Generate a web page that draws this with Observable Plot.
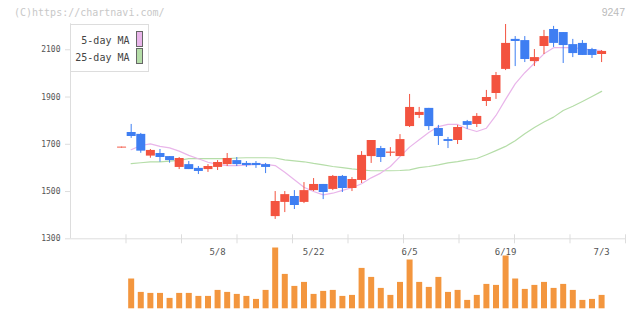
<!DOCTYPE html>
<html><head><meta charset="utf-8">
<script src="https://cdn.jsdelivr.net/npm/d3@7"></script>
<script src="https://cdn.jsdelivr.net/npm/@observablehq/plot@0.6"></script>
<style>
html,body{margin:0;padding:0;background:#fff;}
#wrap{position:relative;width:640px;height:311px;overflow:hidden;}
#wrap svg{position:absolute;left:0;top:0;}
.wm{position:absolute;left:14px;top:7px;font:10px/12px "DejaVu Sans Mono",monospace;color:#c8c8c8;white-space:nowrap;}
.code{position:absolute;right:15px;top:6px;font:10.5px/12px "Liberation Sans","DejaVu Sans",sans-serif;color:#bbb;}
.legend{position:absolute;left:70px;top:24px;width:79px;height:48px;box-sizing:border-box;border:1px solid #ddd;background:#fff;}
.legend .t{position:absolute;right:18.5px;font:10px/12px "DejaVu Sans Mono",monospace;color:#444;white-space:nowrap;}
.legend .sw{position:absolute;left:65px;width:7px;height:16px;box-sizing:border-box;border:1px solid #666;}
</style></head>
<body>
<div id="wrap"></div>
<script>
// trading days
const days = ["4/19","4/20","4/21","4/24","4/25","4/26","4/27","4/28","5/1","5/2","5/8","5/9","5/10","5/11","5/12","5/15","5/16","5/17","5/18","5/19","5/22","5/23","5/24","5/25","5/26","5/29","5/30","5/31","6/1","6/2","6/5","6/6","6/7","6/8","6/9","6/12","6/13","6/14","6/15","6/16","6/19","6/20","6/21","6/22","6/23","6/26","6/27","6/28","6/29","6/30","7/3"];
const tickLabels = ["5/8","5/22","6/5","6/19","7/3"];
const yTicks = [1300,1500,1700,1900,2100];

const open  = [1684, 1750,1742,1650,1661,1648,1602,1614,1598,1593,1602, 1614,1631,1619,1619,1614,1394,1454,1479,1454,1504, 1530,1509,1564,1513,1547,1648,1682,1662,1648,1775, 1822,1852,1767,1720,1716,1796,1784,1881,1915,2017, 2144,2139,2050,2114,2186,2173,2122,2127,2101,2080];
const high  = [1688, 1784,1746,1678,1678,1648,1644,1627,1606,1614,1631, 1661,1644,1627,1627,1619,1500,1500,1504,1538,1555, 1530,1568,1568,1559,1669,1716,1691,1686,1741,1911, 1856,1852,1780,1729,1780,1801,1830,1928,2004,2207, 2156,2156,2101,2182,2199,2173,2144,2139,2106,2097];
const low   = [1684, 1725,1662,1641,1624,1620,1593,1593,1572,1581,1589, 1606,1606,1602,1598,1576,1382,1411,1424,1449,1500, 1466,1504,1496,1500,1534,1619,1623,1648,1648,1771, 1809,1758,1695,1682,1699,1763,1771,1860,1890,2012, 2029,2046,2029,2080,2110,2042,2067,2076,2063,2046];
const close = [1688, 1733,1671,1674,1644,1631,1640,1593,1585,1606,1623, 1640,1614,1610,1610,1602,1458,1487,1441,1504,1530, 1496,1564,1513,1551,1653,1716,1644,1667,1720,1856, 1835,1775,1733,1712,1771,1780,1818,1898,1991,2127, 2135,2059,2067,2156,2127,2118,2084,2076,2076,2093];
const volume = [null, 149,82,77,77,52,77,77,62,62,92, 82,72,62,47,92,304,172,112,132,72, 87,92,62,67,202,157,102,67,132,244, 132,107,157,82,92,42,67,122,117,264, 149,97,117,132,102,122,92,42,47,67];
const ma5  = [null, 1677,1695,1702,1691,1685,1671,1653,1639,1624,1615, 1610,1610,1612,1615,1615,1610,1582,1550,1518,1500, 1486,1493,1505,1516,1533,1558,1578,1606,1648,1688, 1719,1750,1775,1784,1784,1766,1754,1768,1822,1890, 1956,2003,2043,2083,2109,2109,2109,2104,2100,2097];
const ma25 = [null, 1618,1622,1626,1626,1629,1632,1639,1639,1639,1639, 1639,1642,1643,1643,1643,1642,1634,1630,1626,1619, 1613,1606,1601,1596,1592,1588,1588,1588,1589,1592, 1601,1606,1613,1621,1627,1634,1640,1656,1673,1691, 1715,1745,1771,1794,1815,1843,1861,1881,1902,1924];

const UP = "#f3533f", DOWN = "#3e7ef2", VOL = "#f3963e";
const PINK = "#e9b5ea", GREEN = "#b5dda8", GRID = "#dddddd";

const rows = days.map((d, i) => ({i, date: d, open: open[i], high: high[i], low: low[i], close: close[i], vol: volume[i], ma5: ma5[i], ma25: ma25[i]}));
const xDomain = [-5.32, 52.49];
const yDomain = [1300, 2210];
const gridTicks = d3.range(1, 11).map(k => xDomain[0] + k * (xDomain[1] - xDomain[0]) / 10);
const labelIdx = tickLabels.map(t => days.indexOf(t));
const col = d => d.close >= d.open ? UP : DOWN;

const common = {width: 640, height: 311, marginLeft: 70, marginRight: 15,
  style: {fontFamily: "DejaVu Sans Mono, monospace", background: "transparent", overflow: "visible"}};

const volPlot = Plot.plot({
  ...common, marginTop: 247.5, marginBottom: 2.7,
  x: {type: "linear", domain: xDomain, axis: null},
  y: {domain: [0, 304], axis: null},
  marks: [
    Plot.ruleX(rows.filter(d => d.vol != null), {x: "i", y: "vol", stroke: VOL, strokeWidth: 6})
  ]
});

const pricePlot = Plot.plot({
  ...common, marginTop: 23.3, marginBottom: 72.7,
  x: {type: "linear", domain: xDomain, axis: null, label: null},
  y: {domain: yDomain, axis: null, label: null},
  marks: [
    Plot.ruleX([xDomain[0]], {stroke: GRID}),
    Plot.ruleY([yDomain[0]], {stroke: GRID}),
    Plot.axisX({ticks: gridTicks, tickSize: 9, dy: -4, stroke: GRID, fill: "none", label: null, tickFormat: () => ""}),
    Plot.axisY({ticks: yTicks, tickSize: 5, tickPadding: 5, stroke: GRID, fill: "#555", fontSize: 8, label: null, tickFormat: d => String(d)}),
    Plot.axisX({ticks: labelIdx, tickSize: 0, tickPadding: 10, fill: "#555", fontSize: 9, label: null, tickFormat: i => days[i]}),
    Plot.line(rows, {x: "i", y: "ma25", stroke: GREEN, strokeWidth: 1.2}),
    Plot.line(rows, {x: "i", y: "ma5", stroke: PINK, strokeWidth: 1.2}),
    Plot.ruleX(rows, {x: "i", y1: "low", y2: "high", stroke: col, strokeWidth: 1}),
    Plot.ruleX(rows, {x: "i", y1: "open", y2: "close", stroke: col, strokeWidth: 9})
  ]
});

const wrap = document.getElementById("wrap");
wrap.append(volPlot, pricePlot);

const wm = document.createElement("div"); wm.className = "wm"; wm.textContent = "(C)https://chartnavi.com/"; wrap.append(wm);
const code = document.createElement("div"); code.className = "code"; code.textContent = "9247"; wrap.append(code);

const legendItems = [{label: "5-day MA", color: PINK}, {label: "25-day MA", color: GREEN}];
const lg = document.createElement("div"); lg.className = "legend";
legendItems.forEach((it, k) => {
  const t = document.createElement("div"); t.className = "t"; t.textContent = it.label; t.style.top = (9.5 + 17 * k) + "px"; lg.append(t);
  const s = document.createElement("div"); s.className = "sw"; s.style.background = it.color; s.style.top = (6 + 17 * k) + "px"; lg.append(s);
});
wrap.append(lg);
</script>
</body></html>
